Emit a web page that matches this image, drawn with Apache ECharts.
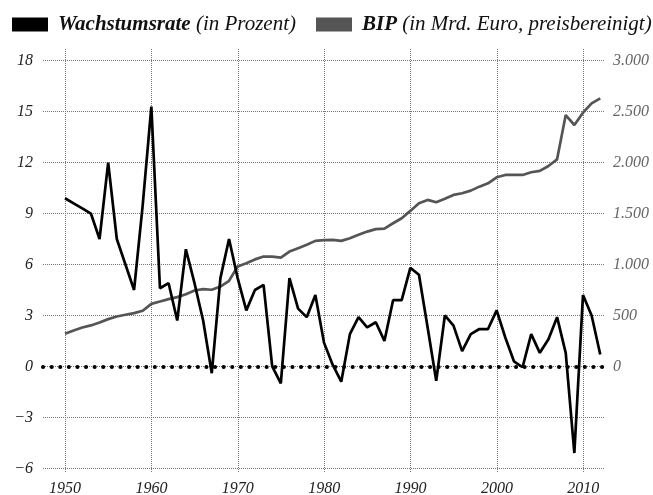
<!DOCTYPE html>
<html>
<head>
<meta charset="utf-8">
<script src="https://cdn.jsdelivr.net/npm/echarts@6/dist/echarts.min.js"></script>
<style>html,body{margin:0;padding:0;background:#fff}#c{width:653px;height:495px}</style>
</head>
<body>
<div id="c"></div>
<script>
const years = [1950,1951,1952,1953,1954,1955,1956,1957,1958,1959,
  1960,1961,1962,1963,1964,1965,1966,1967,1968,1969,
  1970,1971,1972,1973,1974,1975,1976,1977,1978,1979,
  1980,1981,1982,1983,1984,1985,1986,1987,1988,1989,
  1990,1991,1992,1993,1994,1995,1996,1997,1998,1999,
  2000,2001,2002,2003,2004,2005,2006,2007,2008,2009,
  2010,2011,2012];
const growth = [9.9,9.6,9.3,9.0,7.5,12.0,7.5,6.0,4.5,9.5,
  15.3,4.6,4.9,2.7,6.9,4.9,2.7,-0.4,5.2,7.5,
  5.2,3.3,4.5,4.8,0.0,-1.0,5.2,3.4,2.9,4.2,
  1.4,0.1,-0.9,1.9,2.9,2.3,2.6,1.5,3.9,3.9,
  5.8,5.4,2.3,-0.85,3.0,2.4,0.9,1.9,2.2,2.2,
  3.3,1.7,0.3,-0.05,1.9,0.8,1.6,2.9,0.8,-5.1,
  4.2,3.0,0.7];
const gdp = [320,353,382,402,431,464,490,507,523,546,
  614,637,660,680,709,745,758,752,784,840,
  980,1013,1050,1078,1078,1068,1127,1160,1193,1232,
  1239,1242,1232,1258,1291,1323,1347,1353,1405,1454,
  1526,1601,1634,1611,1645,1683,1699,1725,1764,1797,
  1856,1879,1879,1879,1905,1918,1967,2032,2467,2369,
  2490,2582,2631];
const xTicks = [1950,1960,1970,1980,1990,2000,2010];

const FONT = 'Liberation Serif';
const chart = echarts.init(document.getElementById('c'), null, {renderer:'canvas'});
const gridLine = {show:true, lineStyle:{color:'#777', width:1, type:[1,1]}};
const option = {
  animation:false,
  backgroundColor:'#fff',
  legend:{
    left:12, top:14, width:700, padding:0, itemWidth:36, itemHeight:14, itemGap:20, icon:'rect',
    data:['Wachstumsrate','BIP'],
    formatter: n => n==='Wachstumsrate' ? '{b|Wachstumsrate} {i|(in Prozent)}' : '{b|BIP} {i|(in Mrd. Euro, preisbereinigt)}',
    textStyle:{fontFamily:FONT, fontSize:21, fontStyle:'italic', color:'#111', padding:[0,0,0,5],
      rich:{b:{fontFamily:FONT,fontSize:21,fontStyle:'italic',fontWeight:'bold',color:'#111'},
            i:{fontFamily:FONT,fontSize:21,fontStyle:'italic',color:'#111'}}}
  },
  grid:[
    {left:43, right:48, top:60.7, bottom:26.7, outerBoundsMode:'none'},
    {left:-21.3, right:-16.7, top:49, bottom:22, outerBoundsMode:'none'}
  ],
  xAxis:[
    {type:'value', gridIndex:0, min:1947.45, max:2012.55, show:false, splitLine:{show:false}},
    {type:'value', gridIndex:1, min:1940, max:2020, interval:10,
      axisLine:{show:false}, axisTick:{show:false}, splitLine:gridLine,
      axisLabel:{margin:8, fontFamily:FONT, fontSize:16, fontStyle:'italic', color:'#222',
        formatter: v => xTicks.includes(v) ? String(v) : ''}}
  ],
  yAxis:[
    {type:'value', gridIndex:0, min:-6, max:18, interval:3, position:'left',
      axisLine:{show:false}, axisTick:{show:false}, splitLine:gridLine,
      axisLabel:{margin:10, fontFamily:FONT, fontSize:16, fontStyle:'italic', color:'#222',
        formatter: v => v<0 ? '\u2212'+Math.abs(v) : String(v)}},
    {type:'value', gridIndex:0, min:-1000, max:3000, interval:500, position:'right',
      axisLine:{show:false}, axisTick:{show:false}, splitLine:{show:false},
      axisLabel:{margin:8, fontFamily:FONT, fontSize:16, fontStyle:'italic', color:'#666',
        formatter: v => v<0 ? '' : (v>=1000 ? Math.floor(v/1000)+'.'+String(v%1000).padStart(3,'0') : String(v))}},
    {type:'value', gridIndex:1, min:0, max:1, show:false, splitLine:{show:false}}
  ],
  series:[
    {name:'Wachstumsrate', type:'line', xAxisIndex:0, yAxisIndex:0, z:4,
      data: years.map((y,i)=>[y, growth[i]]), showSymbol:false, symbol:'none',
      lineStyle:{color:'#000', width:2.7}, itemStyle:{color:'#000'},
      markLine:{silent:true, symbol:'none', label:{show:false},
        lineStyle:{color:'#000', width:4, type:[0.1,8.5], cap:'round'},
        data:[{yAxis:0}]}},
    {name:'BIP', type:'line', xAxisIndex:0, yAxisIndex:1, z:3,
      data: years.map((y,i)=>[y, gdp[i]]), showSymbol:false, symbol:'none',
      lineStyle:{color:'#555', width:2.7}, itemStyle:{color:'#555'}},
    {type:'line', xAxisIndex:1, yAxisIndex:2, data:[], silent:true}
  ]
};
chart.setOption(option);
</script>
</body>
</html>
